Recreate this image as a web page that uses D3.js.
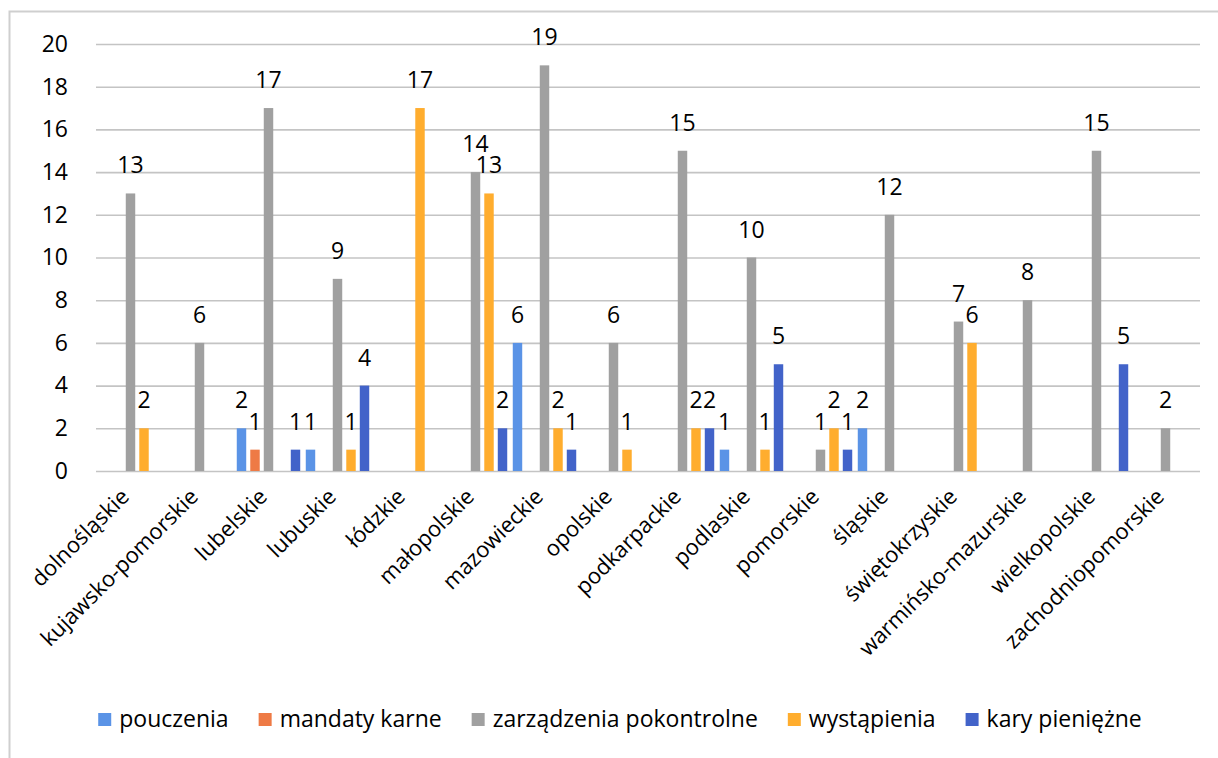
<!DOCTYPE html>
<html>
<head>
<meta charset="utf-8">
<script src="https://cdn.jsdelivr.net/npm/d3@7"></script>
<style>
  body { margin: 0; background: #fff; }
  svg { display: block; font-family: 'Open Sans', sans-serif; }
</style>
</head>
<body>
<div id="chart"></div>
<script>
// voivodeships
const categories = ['dolnośląskie', 'kujawsko-pomorskie', 'lubelskie', 'lubuskie', 'łódzkie',
  'małopolskie', 'mazowieckie', 'opolskie', 'podkarpackie', 'podlaskie', 'pomorskie',
  'śląskie', 'świętokrzyskie', 'warmińsko-mazurskie', 'wielkopolskie', 'zachodniopomorskie'];

const seriesNames = ['pouczenia', 'mandaty karne', 'zarządzenia pokontrolne', 'wystąpienia', 'kary pieniężne'];

const pouczenia   = [0, 0, 2, 1, 0, 0, 6, 0, 0, 1, 0, 2, 0, 0, 0, 0];
const mandaty     = [0, 0, 1, 0, 0, 0, 0, 0, 0, 0, 0, 0, 0, 0, 0, 0];
const zarzadzenia = [13, 6, 17, 9, 0, 14, 19, 6, 15, 10, 1, 12, 7, 8, 15, 2];
const wystapienia = [2, 0, 0, 1, 17, 13, 2, 1, 2, 1, 2, 0, 6, 0, 0, 0];
const kary        = [0, 0, 1, 4, 0, 2, 1, 0, 2, 5, 1, 0, 0, 0, 5, 0];

const yTicks = [0, 2, 4, 6, 8, 10, 12, 14, 16, 18, 20];

const seriesValues = [pouczenia, mandaty, zarzadzenia, wystapienia, kary];
const colors = ['#5a93e6', '#ee7a45', '#a0a0a0', '#ffad2e', '#4263c9'];

const W = 1218, H = 758;
const plot = { left: 96, right: 1200, top: 44, bottom: 471 };

const svg = d3.select('#chart').append('svg')
  .attr('width', W)
  .attr('height', H);

// chart frame (only left/top visible in the scan)
svg.append('rect')
  .attr('x', 9.5).attr('y', 11.5)
  .attr('width', W + 20).attr('height', H + 20)
  .attr('fill', 'none')
  .attr('stroke', '#cfcfcf')
  .attr('stroke-width', 2);

const x = d3.scaleBand()
  .domain(categories)
  .range([plot.left, plot.right]);

const x1 = d3.scaleBand()
  .domain(d3.range(seriesNames.length))
  .range([0, x.bandwidth()])
  .paddingInner(0.3)
  .paddingOuter(0.205);

const y = d3.scaleLinear()
  .domain([0, 20])
  .range([plot.bottom, plot.top]);

// gridlines + y labels
const yAxis = d3.axisLeft(y)
  .tickValues(yTicks)
  .tickSize(-(plot.right - plot.left))
  .tickPadding(28);

const gy = svg.append('g')
  .attr('transform', `translate(${plot.left},0)`)
  .call(yAxis);
gy.select('.domain').remove();
gy.selectAll('.tick line')
  .attr('stroke', '#c4c4c4')
  .attr('stroke-width', 1.6);
gy.selectAll('.tick text')
  .attr('fill', '#000')
  .attr('font-size', 23)
  .attr('font-family', "'Open Sans', sans-serif");

// bars
const groups = svg.append('g')
  .selectAll('g')
  .data(seriesValues)
  .join('g')
  .attr('fill', (d, i) => colors[i]);

groups.each(function(vals, s) {
  const g = d3.select(this);
  g.selectAll('rect')
    .data(vals.map((v, i) => ({ v: v, cat: categories[i] })))
    .join('rect')
    .attr('x', d => x(d.cat) + x1(s))
    .attr('width', x1.bandwidth())
    .attr('y', d => y(d.v))
    .attr('height', d => y(0) - y(d.v));

  // data labels for non-zero values
  g.selectAll('text')
    .data(vals.map((v, i) => ({ v: v, cat: categories[i] })).filter(d => d.v > 0))
    .join('text')
    .attr('x', d => x(d.cat) + x1(s) + x1.bandwidth() / 2)
    .attr('y', d => y(d.v) - 20)
    .attr('text-anchor', 'middle')
    .attr('fill', '#000')
    .attr('font-size', 23)
    .text(d => d.v);
});

// category labels, rotated
const xAxis = d3.axisBottom(x).tickSize(0).tickPadding(0);
const gx = svg.append('g')
  .attr('transform', `translate(0,${plot.bottom})`)
  .call(xAxis);
gx.select('.domain').remove();
gx.selectAll('.tick text')
  .attr('fill', '#000')
  .attr('font-size', 22)
  .attr('font-family', "'Open Sans', sans-serif")
  .attr('text-anchor', 'end')
  .attr('dy', 0)
  .attr('transform', 'translate(0,27) rotate(-45)');

// legend
const legend = svg.append('g').attr('transform', 'translate(0,727)');
const items = legend.selectAll('g')
  .data(seriesNames)
  .join('g');

items.append('rect')
  .attr('width', 13).attr('height', 13)
  .attr('y', -14)
  .attr('fill', (d, i) => colors[i]);

items.append('text')
  .attr('x', 21)
  .attr('y', 0)
  .attr('font-size', 23)
  .attr('fill', '#000')
  .text(d => d);

let offs = 0;
const pos = [];
items.each(function() {
  pos.push(offs);
  offs += 21 + this.querySelector('text').getComputedTextLength() + 30;
});
const total = offs - 30;
const startX = 620 - total / 2;
items.attr('transform', (d, i) => `translate(${startX + pos[i]},0)`);
</script>
</body>
</html>
